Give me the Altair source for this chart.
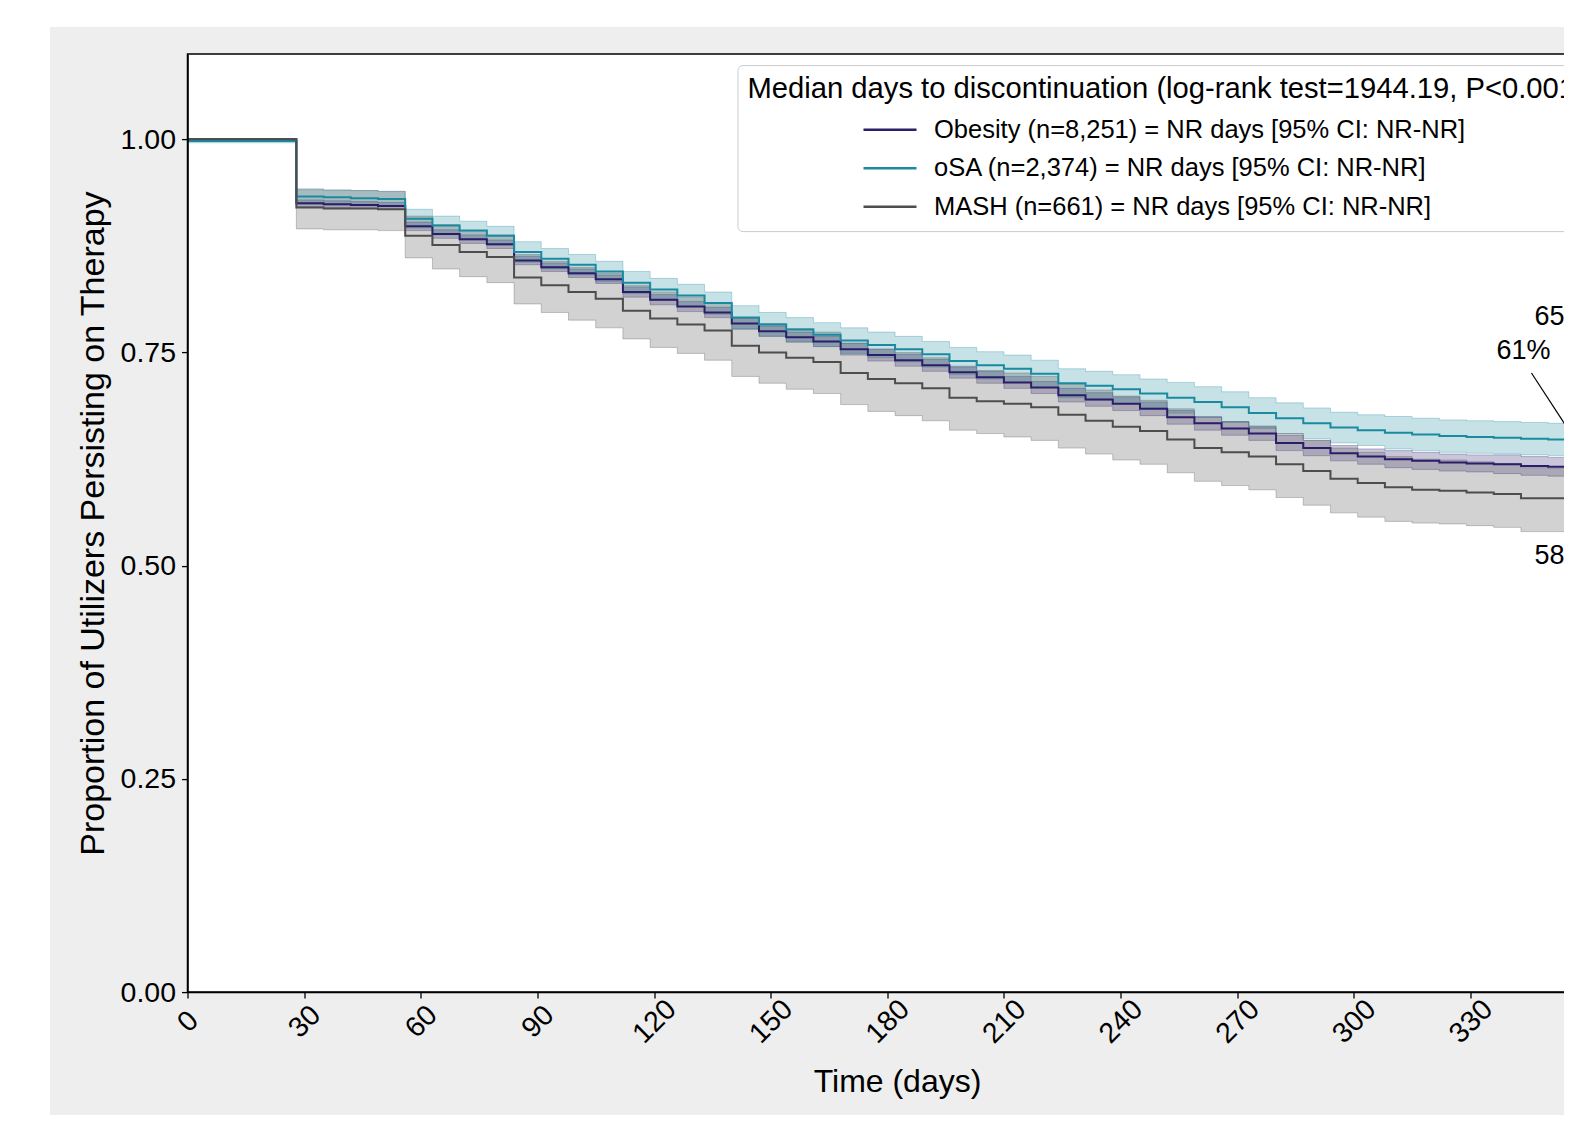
import altair as alt
import pandas as pd

# ---------------- data ----------------
DAYS = [0, 28, 35, 42, 49, 56, 63, 70, 77, 84, 91, 98, 105, 112, 119, 126, 133,
        140, 147, 154, 161, 168, 175, 182, 189, 196, 203, 210, 217, 224, 231, 238,
        245, 252, 259, 266, 273, 280, 287, 294, 301, 308, 315, 322, 329, 336, 343,
        350, 357, 365]

GROUPS = ["Obesity (n=8,251) = NR days [95% CI: NR-NR]",
          "oSA (n=2,374) = NR days [95% CI: NR-NR]",
          "MASH (n=661) = NR days [95% CI: NR-NR]"]
COLORS = ["#2c1d6b", "#1a8aa0", "#4d4d4d"]

OBESITY = [1.000, 0.925, 0.924, 0.923, 0.922, 0.898, 0.889, 0.883, 0.877, 0.858, 0.850, 0.843, 0.836,
           0.821, 0.812, 0.804, 0.797, 0.784, 0.775, 0.768, 0.763, 0.754, 0.747, 0.741, 0.735,
           0.727, 0.721, 0.715, 0.709, 0.700, 0.695, 0.690, 0.684, 0.674, 0.667, 0.661, 0.655,
           0.644, 0.638, 0.632, 0.628, 0.625, 0.623, 0.621, 0.620, 0.619, 0.617, 0.616, 0.615, 0.614]
OBESITY_HI = [1.000, 0.929, 0.928, 0.927, 0.926, 0.903, 0.894, 0.888, 0.882, 0.863, 0.855, 0.848, 0.841,
              0.827, 0.818, 0.810, 0.803, 0.790, 0.781, 0.774, 0.769, 0.761, 0.754, 0.748, 0.742,
              0.734, 0.728, 0.722, 0.716, 0.708, 0.703, 0.698, 0.692, 0.682, 0.675, 0.669, 0.663,
              0.653, 0.647, 0.641, 0.637, 0.635, 0.633, 0.631, 0.630, 0.630, 0.628, 0.627, 0.626, 0.625]
OBESITY_LO = [1.000, 0.921, 0.920, 0.919, 0.918, 0.893, 0.884, 0.878, 0.872, 0.853, 0.845, 0.838, 0.831,
              0.815, 0.806, 0.798, 0.791, 0.778, 0.769, 0.762, 0.757, 0.747, 0.740, 0.734, 0.728,
              0.720, 0.714, 0.708, 0.702, 0.692, 0.687, 0.682, 0.676, 0.666, 0.659, 0.653, 0.647,
              0.635, 0.629, 0.623, 0.619, 0.615, 0.613, 0.611, 0.610, 0.608, 0.606, 0.605, 0.604, 0.603]

OSA = [0.998, 0.933, 0.932, 0.931, 0.930, 0.907, 0.899, 0.893, 0.887, 0.868, 0.860, 0.853, 0.845,
       0.832, 0.824, 0.817, 0.808, 0.791, 0.783, 0.777, 0.771, 0.764, 0.759, 0.754, 0.748,
       0.740, 0.735, 0.731, 0.725, 0.714, 0.711, 0.707, 0.702, 0.697, 0.692, 0.686, 0.679,
       0.673, 0.667, 0.662, 0.659, 0.656, 0.654, 0.652, 0.651, 0.650, 0.649, 0.648, 0.647, 0.647]
OSA_HI = [1.000, 0.942, 0.941, 0.940, 0.939, 0.918, 0.910, 0.904, 0.898, 0.880, 0.872, 0.865, 0.857,
          0.845, 0.837, 0.830, 0.821, 0.805, 0.797, 0.791, 0.785, 0.779, 0.774, 0.769, 0.763,
          0.756, 0.751, 0.747, 0.741, 0.731, 0.728, 0.724, 0.719, 0.715, 0.710, 0.704, 0.697,
          0.691, 0.685, 0.680, 0.677, 0.675, 0.673, 0.671, 0.670, 0.669, 0.668, 0.667, 0.666, 0.666]
OSA_LO = [0.996, 0.924, 0.923, 0.922, 0.921, 0.896, 0.888, 0.882, 0.876, 0.856, 0.848, 0.841, 0.833,
          0.819, 0.811, 0.804, 0.795, 0.777, 0.769, 0.763, 0.757, 0.749, 0.744, 0.739, 0.733,
          0.724, 0.719, 0.715, 0.709, 0.697, 0.694, 0.690, 0.685, 0.679, 0.674, 0.668, 0.661,
          0.655, 0.649, 0.644, 0.641, 0.637, 0.635, 0.633, 0.632, 0.631, 0.630, 0.629, 0.628, 0.628]

MASH = [1.000, 0.920, 0.919, 0.919, 0.918, 0.887, 0.876, 0.868, 0.862, 0.838, 0.829, 0.821, 0.813,
        0.799, 0.790, 0.783, 0.776, 0.758, 0.750, 0.744, 0.739, 0.726, 0.719, 0.714, 0.708,
        0.697, 0.693, 0.690, 0.686, 0.677, 0.670, 0.663, 0.658, 0.648, 0.638, 0.633, 0.628,
        0.619, 0.611, 0.602, 0.597, 0.592, 0.589, 0.588, 0.586, 0.584, 0.579, 0.579, 0.579, 0.579]
MASH_HI = [1.000, 0.941, 0.940, 0.940, 0.939, 0.910, 0.900, 0.893, 0.888, 0.865, 0.857, 0.850, 0.843,
           0.829, 0.821, 0.815, 0.808, 0.791, 0.784, 0.778, 0.774, 0.761, 0.754, 0.750, 0.744,
           0.733, 0.729, 0.726, 0.722, 0.713, 0.706, 0.699, 0.694, 0.684, 0.674, 0.669, 0.664,
           0.655, 0.647, 0.638, 0.633, 0.628, 0.625, 0.624, 0.622, 0.620, 0.615, 0.614, 0.614, 0.614]
MASH_LO = [1.000, 0.895, 0.894, 0.894, 0.893, 0.861, 0.848, 0.839, 0.832, 0.807, 0.797, 0.788, 0.779,
           0.766, 0.756, 0.749, 0.741, 0.722, 0.714, 0.707, 0.702, 0.689, 0.681, 0.676, 0.670,
           0.659, 0.655, 0.651, 0.647, 0.638, 0.631, 0.624, 0.619, 0.609, 0.599, 0.594, 0.589,
           0.580, 0.571, 0.562, 0.557, 0.552, 0.550, 0.549, 0.547, 0.545, 0.540, 0.540, 0.540, 0.540]

X_TICKS = [0, 30, 60, 90, 120, 150, 180, 210, 240, 270, 300, 330, 360]
Y_TICKS = [0.0, 0.25, 0.5, 0.75, 1.0]

# annotation labels (text, day, value) and leader lines
ANN_TEXT = ["65%", "61%", "58%"]
ANN_DAY = [346.5, 336.7, 346.5]
ANN_VALUE = [0.792, 0.752, 0.511]
LEAD_DAY = [345.7, 355.1]
LEAD_VALUE = [0.726, 0.772]
LEAD_DAY2 = [361.7, 358.7]
LEAD_VALUE2 = [0.614, 0.651]

# ---------------- tables ----------------
rows = []
for g, v, lo, hi in zip(GROUPS, [OBESITY, OSA, MASH], [OBESITY_LO, OSA_LO, MASH_LO],
                        [OBESITY_HI, OSA_HI, MASH_HI]):
    for d, a, b, c in zip(DAYS, v, lo, hi):
        rows.append({"group": g, "day": d, "value": a, "lo": b, "hi": c})
df = pd.DataFrame(rows)
ann = pd.DataFrame({"text": ANN_TEXT, "day": ANN_DAY, "value": ANN_VALUE})
lead = pd.DataFrame({"day": LEAD_DAY, "value": LEAD_VALUE, "day2": LEAD_DAY2, "value2": LEAD_VALUE2})
one = pd.DataFrame({"k": [0]})

W, H = 1419, 938
FONT = "Liberation Sans"

xscale = alt.Scale(domain=[0, 365], nice=False, zero=False)
yscale = alt.Scale(domain=[0, 1.1], nice=False)
xaxis = alt.Axis(values=X_TICKS, title="Time (days)", labelAngle=-45, labelAlign="center",
                 labelBaseline="middle", labelPadding=23, tickSize=6, titlePadding=18,
                 titleFontSize=32, labelFontSize=28.5, labelFlush=False, labelOverlap=False, zindex=1)
yaxis = alt.Axis(values=Y_TICKS, format=".2f", title="Proportion of Utilizers Persisting on Therapy",
                 titleFontSize=34, labelFontSize=28.5, tickSize=6, labelPadding=6, titlePadding=10,
                 labelFlush=False, labelOverlap=False, zindex=1)

def X(field="day"):
    return alt.X(f"{field}:Q", scale=xscale, axis=xaxis)

def Y(field="value"):
    return alt.Y(f"{field}:Q", scale=yscale, axis=yaxis)

color_scale = alt.Scale(domain=GROUPS, range=COLORS)
legend = alt.Legend(
    title="Median days to discontinuation (log-rank test=1944.19, P<0.001)",
    orient="none", legendX=550, legendY=11,
    symbolType="stroke", symbolSize=2809, symbolStrokeWidth=2.5,
    symbolOffset=114.5, labelOffset=16, clipHeight=25, rowPadding=12.5,
    titlePadding=13, padding=10, fillColor="white", strokeColor="#cccccc", cornerRadius=5,
    titleFontSize=29.2, titleFont=FONT, titleFontWeight="normal", titleColor="black", titleLimit=3000,
    labelFontSize=25.5, labelFont=FONT, labelColor="black", labelLimit=3000, zindex=1)

bg = alt.Chart(one).mark_rect(color="#eeeeee").encode(
    x=alt.value(-137.5), x2=alt.value(W + 80), y=alt.value(-27), y2=alt.value(H + 160))
plot_bg = alt.Chart(one).mark_rect(color="white").encode(
    x=alt.value(0), x2=alt.value(W), y=alt.value(0), y2=alt.value(H))
frame = alt.Chart(one).mark_rect(filled=False, stroke="black", strokeWidth=1.5).encode(
    x=alt.value(0), x2=alt.value(W), y=alt.value(0), y2=alt.value(H))

layers = [bg, plot_bg]
for g, c in zip(GROUPS, COLORS):
    layers.append(
        alt.Chart(df).transform_filter(alt.datum.group == g)
        .mark_area(interpolate="step-after", color=c, fillOpacity=0.25, stroke=c,
                   strokeOpacity=0.3, strokeWidth=1)
        .encode(x=X(), y=Y("lo"), y2="hi:Q"))
for g in GROUPS:
    layers.append(
        alt.Chart(df).transform_filter(alt.datum.group == g)
        .mark_line(interpolate="step-after", strokeWidth=2)
        .encode(x=X(), y=Y(), color=alt.Color("group:N", scale=color_scale, legend=legend)))

ann_lines = alt.Chart(lead).mark_rule(color="black", strokeWidth=1.2).encode(
    x=X(), y=Y(), x2="day2:Q", y2="value2:Q")
ann_text = alt.Chart(ann).mark_text(align="left", baseline="middle", fontSize=27, font=FONT,
                                    color="black").encode(x=X(), y=Y(), text="text:N")
layers += [ann_lines, ann_text, frame]

chart = alt.layer(*layers).properties(
    width=W, height=H,
    autosize=alt.AutoSizeParams(type="none"),
    padding={"left": 179.5, "top": 46.1, "right": -42.5, "bottom": 122.5},
    background="white",
).configure_view(stroke=None).configure_axis(
    labelFont=FONT, titleFont=FONT, labelColor="black", titleColor="black",
    domainColor="black", tickColor="black", domainWidth=1.5, tickWidth=1.3,
    grid=False, titleFontWeight="normal",
)

chart.save("out.html", embed_options={"renderer": "svg", "actions": False})
